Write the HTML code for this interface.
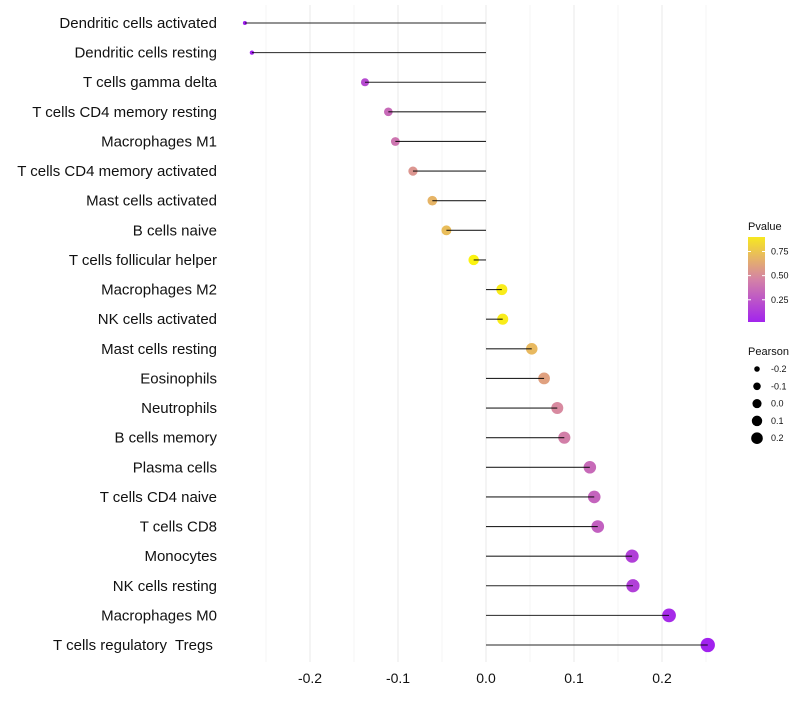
<!DOCTYPE html>
<html><head><meta charset="utf-8"><style>
body{margin:0;background:#fff;font-family:"Liberation Sans",sans-serif}
svg text{font-family:"Liberation Sans",sans-serif;white-space:pre}
</style></head><body>
<svg id="c" width="800" height="700"></svg>
<script>
const categories=["Dendritic cells activated","Dendritic cells resting","T cells gamma delta","T cells CD4 memory resting","Macrophages M1","T cells CD4 memory activated","Mast cells activated","B cells naive","T cells follicular helper","Macrophages M2","NK cells activated","Mast cells resting","Eosinophils","Neutrophils","B cells memory","Plasma cells","T cells CD4 naive","T cells CD8","Monocytes","NK cells resting","Macrophages M0","T cells regulatory  Tregs "];
const pearson=[-0.274,-0.266,-0.1375,-0.111,-0.103,-0.083,-0.061,-0.045,-0.014,0.018,0.019,0.052,0.066,0.081,0.089,0.118,0.123,0.127,0.166,0.167,0.208,0.252];
const pvalue=[0.0,0.01,0.2,0.35,0.4,0.55,0.68,0.72,0.95,0.92,0.92,0.7,0.6,0.5,0.45,0.35,0.32,0.3,0.15,0.15,0.05,0.01];
const xTicks=[-0.2,-0.1,0.0,0.1,0.2];
const pTicks=[0.25,0.5,0.75];
const sizeTicks=[-0.2,-0.1,0.0,0.1,0.2];
const NS="http://www.w3.org/2000/svg",svg=document.getElementById('c');
function el(t,a,p){const e=document.createElementNS(NS,t);for(const k in a)e.setAttribute(k,a[k]);(p||svg).appendChild(e);return e;}
const X=v=>486+v*880, Y=i=>23+i*(622/21);
const R=v=>Math.sqrt(Math.max(1,4+(v+0.274)*90));
function col(p){p=Math.max(0,Math.min(1,p));const s=[[0,[160,32,240]],[0.5,[216,138,160]],[1,[255,255,0]]];
 let a=s[0],b=s[1];if(p>0.5){a=s[1];b=s[2];}const t=(p-a[0])/(b[0]-a[0]);
 return 'rgb('+a[1].map((c,i)=>Math.round(c+(b[1][i]-c)*t)).join(',')+')';}
for(let k=-5;k<=5;k++){const v=k*0.05;const g=el('line',{x1:X(v),x2:X(v),y1:5,y2:662,stroke:k%2?'#f2f2f2':'#ebebeb','stroke-width':k%2?0.7:1.1});
}
xTicks.forEach(v=>{const t=el('text',{x:X(v),y:683,'text-anchor':'middle','font-size':14,fill:'#111'});t.textContent=v.toFixed(1);
});
categories.forEach((c,i)=>{const y=Y(i);
 const t=el('text',{x:217,y:y+5,'text-anchor':'end','font-size':15,fill:'#111'});t.textContent=c;
 
 const p=el('circle',{cx:X(pearson[i]),cy:y,r:R(pearson[i]),fill:col(pvalue[i])});
 
 const l=el('line',{x1:X(0),x2:X(pearson[i]),y1:y,y2:y,stroke:'#000','stroke-width':1.1,'stroke-opacity':0.85});
 
});
let t=el('text',{x:748,y:230,'font-size':11,fill:'#111'});t.textContent='Pvalue';

const defs=el('defs',{});const lg=el('linearGradient',{id:'g',x1:0,y1:1,x2:0,y2:0},defs);
[0,0.25,0.5,0.75,1].forEach(o=>el('stop',{offset:o,'stop-color':col(0.02+o*0.88)},lg));
const cb=el('rect',{x:748,y:237,width:17,height:85,fill:'url(#g)'});

pTicks.forEach(p=>{const y=322-(p-0.02)/0.88*85;
 el('line',{x1:748,x2:751,y1:y,y2:y,stroke:'#fff'});el('line',{x1:762,x2:765,y1:y,y2:y,stroke:'#fff'});
 const tt=el('text',{x:771,y:y+3,'font-size':9,fill:'#111'});tt.textContent=p.toFixed(2);
 });
t=el('text',{x:748,y:355,'font-size':11,fill:'#111'});t.textContent='Pearson';

sizeTicks.forEach((v,i)=>{const y=369+i*17.3;
 const c=el('circle',{cx:757,cy:y,r:R(v)*0.85,fill:'#000'});
 const tt=el('text',{x:771,y:y+3,'font-size':9,fill:'#111'});tt.textContent=v.toFixed(1);
 });
</script>
</body></html>
